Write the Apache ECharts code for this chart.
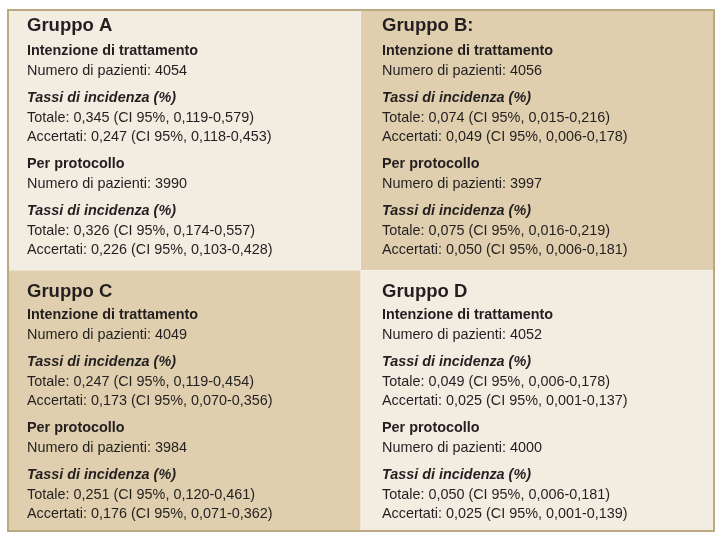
<!DOCTYPE html>
<html><head><meta charset="utf-8">
<script src="https://cdn.jsdelivr.net/npm/echarts@6/dist/echarts.min.js"></script>
<style>html,body{margin:0;padding:0;background:#fff}#c{width:721px;height:538px}</style>
</head><body><div id="c"></div>
<script>
// ---- data ----
const groups = ['Gruppo A', 'Gruppo B:', 'Gruppo C', 'Gruppo D'];
const panelCol = [0, 1, 0, 1];
const panelRow = [0, 0, 1, 1];
const ittPatients = [4054, 4056, 4049, 4052];
const ppPatients = [3990, 3997, 3984, 4000];
const ittTotal = [0.345, 0.074, 0.247, 0.049];
const ittTotalLo = [0.119, 0.015, 0.119, 0.006];
const ittTotalHi = [0.579, 0.216, 0.454, 0.178];
const ittAcc = [0.247, 0.049, 0.173, 0.025];
const ittAccLo = [0.118, 0.006, 0.070, 0.001];
const ittAccHi = [0.453, 0.178, 0.356, 0.137];
const ppTotal = [0.326, 0.075, 0.251, 0.050];
const ppTotalLo = [0.174, 0.016, 0.120, 0.006];
const ppTotalHi = [0.557, 0.219, 0.461, 0.181];
const ppAcc = [0.226, 0.050, 0.176, 0.025];
const ppAccLo = [0.103, 0.006, 0.071, 0.001];
const ppAccHi = [0.428, 0.181, 0.362, 0.139];

// ---- styling ----
const LIGHT = '#f2ece1';
const TAN = '#dfcfae';
const panelFill = [LIGHT, TAN, TAN, LIGHT];
const TXT = '#231f20';
const FF = '"Liberation Sans", Arial, Helvetica, sans-serif';
const BODY = 14.4;

function f(v) { return v.toFixed(3).replace('.', ','); }
function rate(label, v, lo, hi) { return label + ': ' + f(v) + ' (CI 95%, ' + f(lo) + '-' + f(hi) + ')'; }

function panelLines(i) {
  return [
    { t: groups[i], o: 16, w: 'bold', s: 'normal', z: 18.5 },
    { t: 'Intenzione di trattamento', o: 41, w: 'bold', s: 'normal', z: BODY },
    { t: 'Numero di pazienti: ' + ittPatients[i], o: 61, w: 'normal', s: 'normal', z: BODY },
    { t: 'Tassi di incidenza (%)', o: 88, w: 'bold', s: 'italic', z: BODY },
    { t: rate('Totale', ittTotal[i], ittTotalLo[i], ittTotalHi[i]), o: 108, w: 'normal', s: 'normal', z: BODY },
    { t: rate('Accertati', ittAcc[i], ittAccLo[i], ittAccHi[i]), o: 127, w: 'normal', s: 'normal', z: BODY },
    { t: 'Per protocollo', o: 154, w: 'bold', s: 'normal', z: BODY },
    { t: 'Numero di pazienti: ' + ppPatients[i], o: 174, w: 'normal', s: 'normal', z: BODY },
    { t: 'Tassi di incidenza (%)', o: 201, w: 'bold', s: 'italic', z: BODY },
    { t: rate('Totale', ppTotal[i], ppTotalLo[i], ppTotalHi[i]), o: 221, w: 'normal', s: 'normal', z: BODY },
    { t: rate('Accertati', ppAcc[i], ppAccLo[i], ppAccHi[i]), o: 240, w: 'normal', s: 'normal', z: BODY }
  ];
}

const rowShift = [0, 4];
const titleShift = [0, 1];
const colPad = [19, 21];

const chart = echarts.init(document.getElementById('c'), null, { renderer: 'canvas' });
chart.setOption({
  backgroundColor: '#ffffff',
  animation: false,
  grid: { left: 8, right: 7, top: 10, bottom: 7 },
  xAxis: { type: 'value', min: 0, max: 2, show: false },
  yAxis: { type: 'value', min: 0, max: 2, inverse: true, show: false },
  series: [
    {
      type: 'custom',
      coordinateSystem: 'cartesian2d',
      data: groups.map((g, i) => [panelCol[i], panelRow[i], i]),
      renderItem: function (params, api) {
        const c = api.value(0), r = api.value(1), i = api.value(2);
        const p0 = api.coord([c, r]);
        const p1 = api.coord([c + 1, r + 1]);
        const children = [{
          type: 'rect',
          shape: { x: p0[0], y: p0[1], width: p1[0] - p0[0], height: p1[1] - p0[1] },
          style: { fill: panelFill[i], stroke: panelFill[i] === LIGHT ? '#f8f4ee' : null, lineWidth: 1 }
        }];
        panelLines(i).forEach((ln, k) => {
          children.push({
            type: 'text',
            style: {
              text: ln.t,
              x: p0[0] + colPad[c],
              y: p0[1] + ln.o + rowShift[r] + (k === 0 ? titleShift[r] : 0),
              fill: TXT,
              fontFamily: FF,
              fontSize: ln.z,
              fontWeight: ln.w,
              fontStyle: ln.s,
              verticalAlign: 'middle',
              align: 'left'
            }
          });
        });
        return { type: 'group', children: children };
      }
    },
    {
      type: 'custom',
      coordinateSystem: 'cartesian2d',
      z: 10,
      data: [[0, 0]],
      renderItem: function (params, api) {
        const p0 = api.coord([0, 0]);
        const p1 = api.coord([2, 2]);
        return {
          type: 'rect',
          shape: { x: p0[0], y: p0[1], width: p1[0] - p0[0], height: p1[1] - p0[1] },
          style: { fill: null, stroke: '#bda981', lineWidth: 2 }
        };
      }
    }
  ]
});
</script>
</body></html>
